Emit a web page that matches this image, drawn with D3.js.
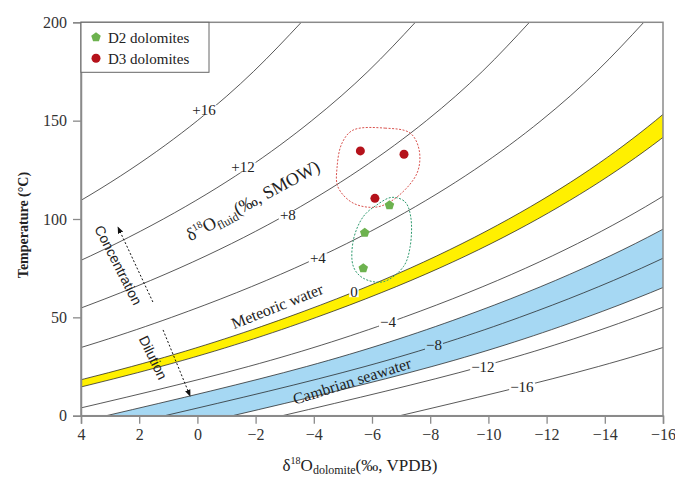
<!DOCTYPE html>
<html>
<head>
<meta charset="utf-8">
<script src="https://cdn.jsdelivr.net/npm/d3@7"></script>
<style>
  body { margin: 0; background: #fff; }
  text { font-family: "Liberation Serif", "Times New Roman", serif; }
</style>
</head>
<body>
<svg id="chart" width="675" height="479"></svg>
<script>
/*************************Data********************* */
// temperature rows (°C) at which every isoline was read
const tempRows = [0, 25, 50, 75, 100, 125, 150, 175, 200];
// dolomite δ18O (‰ VPDB) of each δ18O-fluid isoline at the temperature rows
const isoP16 = [25.34, 18.29, 12.86, 8.57, 5.13, 2.32, 0.0, -1.93, -3.57];
const isoP12 = [21.3, 14.29, 8.87, 4.6, 1.17, -1.63, -3.93, -5.86, -7.49];
const isoP8 = [17.26, 10.28, 4.88, 0.63, -2.79, -5.57, -7.87, -9.79, -11.41];
const isoP4 = [13.23, 6.27, 0.89, -3.34, -6.74, -9.52, -11.81, -13.72, -15.34];
const iso0 = [9.19, 2.26, -3.09, -7.31, -10.7, -13.47, -15.74, -17.65, -19.26];
const isoM1 = [8.18, 1.26, -4.09, -8.31, -11.69, -14.45, -16.73, -18.63, -20.24];
const isoM4 = [5.15, -1.75, -7.08, -11.28, -14.66, -17.41, -19.68, -21.58, -23.18];
const isoM6 = [3.13, -3.75, -9.07, -13.27, -16.64, -19.38, -21.65, -23.55, -25.14];
const isoM8 = [1.12, -5.76, -11.07, -15.26, -18.62, -21.36, -23.62, -25.51, -27.11];
const isoM10 = [-1.21, -8.06, -13.36, -17.54, -20.89, -23.63, -25.88, -27.77, -29.36];
const isoM12 = [-2.92, -9.77, -15.06, -19.23, -22.57, -25.3, -27.56, -29.44, -31.03];
const isoM16 = [-6.96, -13.78, -19.04, -23.2, -26.53, -29.25, -31.49, -33.37, -34.95];

const isolines = [isoP16, isoP12, isoP8, isoP4, iso0, isoM1, isoM4, isoM6, isoM8, isoM10, isoM12, isoM16];

// curve labels: text, x (‰), T (°C)
const labelTexts = ["+16", "+12", "+8", "+4", "0", "\u22124", "\u22128", "\u221212", "\u221216"];
const labelX = [-0.23, -1.57, -3.11, -4.14, -5.38, -6.55, -8.13, -9.81, -11.15];
const labelT = [155.4, 126.4, 102.0, 80.2, 62.9, 47.6, 36.0, 24.8, 14.6];

// samples
const d2X = [-6.6, -5.75, -5.7];
const d2T = [107, 93, 75];
const d3X = [-5.6, -7.1, -6.1];
const d3T = [134.6, 132.9, 110.5];

// dotted envelopes round the sample groups
const d3EnvX = [-5.35, -6.45, -7.31, -7.62, -7.55, -6.86, -6.17, -5.35, -4.83, -4.8, -4.97];
const d3EnvT = [145.2, 146.2, 143.7, 135.1, 123.4, 111.2, 106.1, 108.1, 116.3, 126.4, 138.6];
const d2EnvX = [-6.68, -7.13, -7.33, -7.31, -7.08, -6.39, -5.7, -5.36, -5.36, -5.7, -6.16];
const d2EnvT = [111.0, 108.8, 101.2, 85.9, 75.8, 68.1, 69.9, 75.8, 89.3, 101.2, 107.1];

const xTicks = [4, 2, 0, -2, -4, -6, -8, -10, -12, -14, -16];
const yTicks = [0, 50, 100, 150, 200];

/*************************Scales********************* */
const svg = d3.select("svg#chart");
const mLeft = 81, mRight = 663, mTop = 22.3, mBottom = 415.7;
const scaleX = d3.scaleLinear().domain([4, -16]).range([mLeft, mRight]);
const scaleY = d3.scaleLinear().domain([0, 200]).range([mBottom, mTop]);

const defs = svg.append("defs");
defs.append("clipPath").attr("id", "plotclip")
  .append("rect").attr("x", mLeft).attr("y", mTop).attr("width", mRight - mLeft).attr("height", mBottom - mTop);
defs.append("marker").attr("id", "arrowhead").attr("viewBox", "0 0 10 10").attr("refX", 9).attr("refY", 5)
  .attr("markerWidth", 7).attr("markerHeight", 7).attr("markerUnits", "userSpaceOnUse").attr("orient", "auto")
  .append("path").attr("d", "M0,1 L10,5 L0,9 Z").attr("fill", "#111");

const plot = svg.append("g").attr("clip-path", "url(#plotclip)");

const rows = (xs) => xs.map((x, i) => ({ x: x, t: tempRows[i] }));
const line = d3.line().x((d) => scaleX(d.x)).y((d) => scaleY(d.t)).curve(d3.curveNatural);
const band = (upper, lower) =>
  d3.area()
    .y((d, i) => scaleY(tempRows[i]))
    .x0((d, i) => scaleX(upper[i]))
    .x1((d, i) => scaleX(lower[i]))
    .curve(d3.curveNatural)(tempRows);

/*************************Bands********************* */
plot.append("path").attr("d", band(isoM6, isoM10)).attr("fill", "#a6d8f3");
plot.append("path").attr("d", band(iso0, isoM1)).attr("fill", "#fff000");

/*************************Isolines********************* */
plot.selectAll("path.iso")
  .data(isolines)
  .join("path")
  .attr("class", "iso")
  .attr("d", (d) => line(rows(d)))
  .attr("fill", "none")
  .attr("stroke", "#222")
  .attr("stroke-width", 0.75);

// labels sitting in gaps of the lines
const lab = plot.append("g");
labelTexts.forEach((txt, i) => {
  const inBlue = txt === "\u22128";
  const t = lab.append("text")
    .text(txt)
    .attr("x", scaleX(labelX[i]))
    .attr("y", scaleY(labelT[i]))
    .attr("dy", "0.35em")
    .attr("text-anchor", "middle")
    .style("font-size", "15px")
    .attr("fill", "#222");
  const bb = t.node().getBBox();
  lab.insert("rect", "text")
    .attr("x", bb.x - 1).attr("y", bb.y + 3)
    .attr("width", bb.width + 2).attr("height", bb.height - 6)
    .attr("fill", inBlue ? "#a6d8f3" : "#fff");
});

/*************************Frame & Axes********************* */
svg.append("rect").attr("x", mLeft).attr("y", mTop).attr("width", mRight - mLeft).attr("height", mBottom - mTop)
  .attr("fill", "none").attr("stroke", "#8a8a8a").attr("stroke-width", 1.5);

const xAxis = d3.axisBottom(scaleX).tickValues(xTicks).tickSize(8).tickPadding(5);
const yAxis = d3.axisLeft(scaleY).tickValues(yTicks).tickSize(8).tickPadding(6);
svg.append("g").attr("class", "x-axis").attr("transform", `translate(0,${mBottom})`).call(xAxis);
svg.append("g").attr("class", "y-axis").attr("transform", `translate(${mLeft},0)`).call(yAxis);
svg.selectAll(".x-axis, .y-axis").attr("font-family", "Liberation Serif, serif");
svg.selectAll(".x-axis path.domain, .y-axis path.domain").attr("stroke", "#8a8a8a").attr("stroke-width", 1.5);
svg.selectAll(".tick line").attr("stroke", "#8a8a8a").attr("stroke-width", 1.3);
svg.selectAll(".tick text").attr("fill", "#333").style("font-size", "16px");

// axis titles
svg.append("text")
  .text("Temperature (\u00b0C)")
  .attr("transform", `translate(23,225) rotate(-90)`)
  .attr("text-anchor", "middle")
  .attr("dy", "0.35em")
  .style("font-weight", "bold")
  .style("font-size", "14px")
  .attr("fill", "#222");

const xt = svg.append("text").attr("x", 360).attr("y", 471).attr("text-anchor", "middle").attr("fill", "#222").style("font-size", "17px");
xt.append("tspan").text("\u03b4");
xt.append("tspan").text("18").style("font-size", "10px").attr("dy", -7);
xt.append("tspan").text("O").attr("dy", 7);
xt.append("tspan").text("dolomite").style("font-size", "12px").attr("dy", 3);
xt.append("tspan").text("(\u2030, VPDB)").attr("dy", -3);

/*************************Annotations********************* */
const fl = svg.append("text")
  .attr("transform", `translate(${scaleX(-1.9)},${scaleY(109.5)}) rotate(-28.5)`)
  .attr("text-anchor", "middle").attr("dy", "0.35em").attr("fill", "#222").style("font-size", "18px");
fl.append("tspan").text("\u03b4");
fl.append("tspan").text("18").style("font-size", "10px").attr("dy", -7);
fl.append("tspan").text("O").attr("dy", 7);
fl.append("tspan").text("fluid").style("font-size", "12px").attr("dy", 4);
fl.append("tspan").text("(\u2030, SMOW)").attr("dy", -4);

const note = (txt, x, t, angle, family) =>
  svg.append("text").text(txt)
    .attr("transform", `translate(${scaleX(x)},${scaleY(t)}) rotate(${angle})`)
    .attr("text-anchor", "middle").attr("dy", "0.35em")
    .attr("fill", "#222")
    .style("font-family", family)
    .style("font-size", family ? "14px" : "16px");
note("Meteoric water", -2.74, 55.8, -21.7);
note("Cambrian seawater", -5.31, 17.7, -17.5);
note("Concentration", 2.72, 76.6, 63, "Liberation Sans, Arial, sans-serif");
note("Dilution", 1.52, 29.5, 64, "Liberation Sans, Arial, sans-serif");

// dotted arrows
const arrow = (x1, t1, x2, t2) =>
  svg.append("line")
    .attr("x1", scaleX(x1)).attr("y1", scaleY(t1))
    .attr("x2", scaleX(x2)).attr("y2", scaleY(t2))
    .attr("stroke", "#111").attr("stroke-width", 1).attr("stroke-dasharray", "2,2")
    .attr("marker-end", "url(#arrowhead)");
arrow(1.53, 57.8, 2.73, 95.9);
arrow(1.18, 43.6, 0.25, 10.0);

// envelopes
const env = d3.line().x((d) => scaleX(d[0])).y((d) => scaleY(d[1])).curve(d3.curveCatmullRomClosed.alpha(0.5));
svg.append("path").attr("d", env(d3.zip(d3EnvX, d3EnvT)))
  .attr("fill", "none").attr("stroke", "#d9534f").attr("stroke-width", 1).attr("stroke-dasharray", "2,1.5");
svg.append("path").attr("d", env(d3.zip(d2EnvX, d2EnvT)))
  .attr("fill", "none").attr("stroke", "#2e9a6e").attr("stroke-width", 1).attr("stroke-dasharray", "2,1.5");

/*************************Samples********************* */
const pentagon = (r) => {
  const pts = d3.range(5).map((k) => {
    const a = -Math.PI / 2 + (k * 2 * Math.PI) / 5;
    return [r * Math.cos(a), r * Math.sin(a)];
  });
  return "M" + pts.map((p) => p.join(",")).join("L") + "Z";
};
const green = "#6db24f";
const red = "#b5121b";

svg.append("g").selectAll("path")
  .data(d3.zip(d2X, d2T))
  .join("path")
  .attr("d", pentagon(5))
  .attr("transform", (d) => `translate(${scaleX(d[0])},${scaleY(d[1])})`)
  .attr("fill", green);

svg.append("g").selectAll("circle")
  .data(d3.zip(d3X, d3T))
  .join("circle")
  .attr("cx", (d) => scaleX(d[0]))
  .attr("cy", (d) => scaleY(d[1]))
  .attr("r", 4.5)
  .attr("fill", red);

/*************************Legend********************* */
const legend = svg.append("g").attr("transform", `translate(${mLeft},${mTop})`);
legend.append("rect").attr("width", 128).attr("height", 50).attr("fill", "#fff").attr("stroke", "#666").attr("stroke-width", 1);
legend.append("path").attr("d", pentagon(5)).attr("transform", "translate(15,15)").attr("fill", green);
legend.append("circle").attr("cx", 15).attr("cy", 36).attr("r", 4.5).attr("fill", red);
legend.append("text").text("D2 dolomites").attr("x", 27).attr("y", 15).attr("dy", "0.35em").style("font-size", "15px").attr("fill", "#222");
legend.append("text").text("D3 dolomites").attr("x", 27).attr("y", 36).attr("dy", "0.35em").style("font-size", "15px").attr("fill", "#222");
</script>
</body>
</html>
